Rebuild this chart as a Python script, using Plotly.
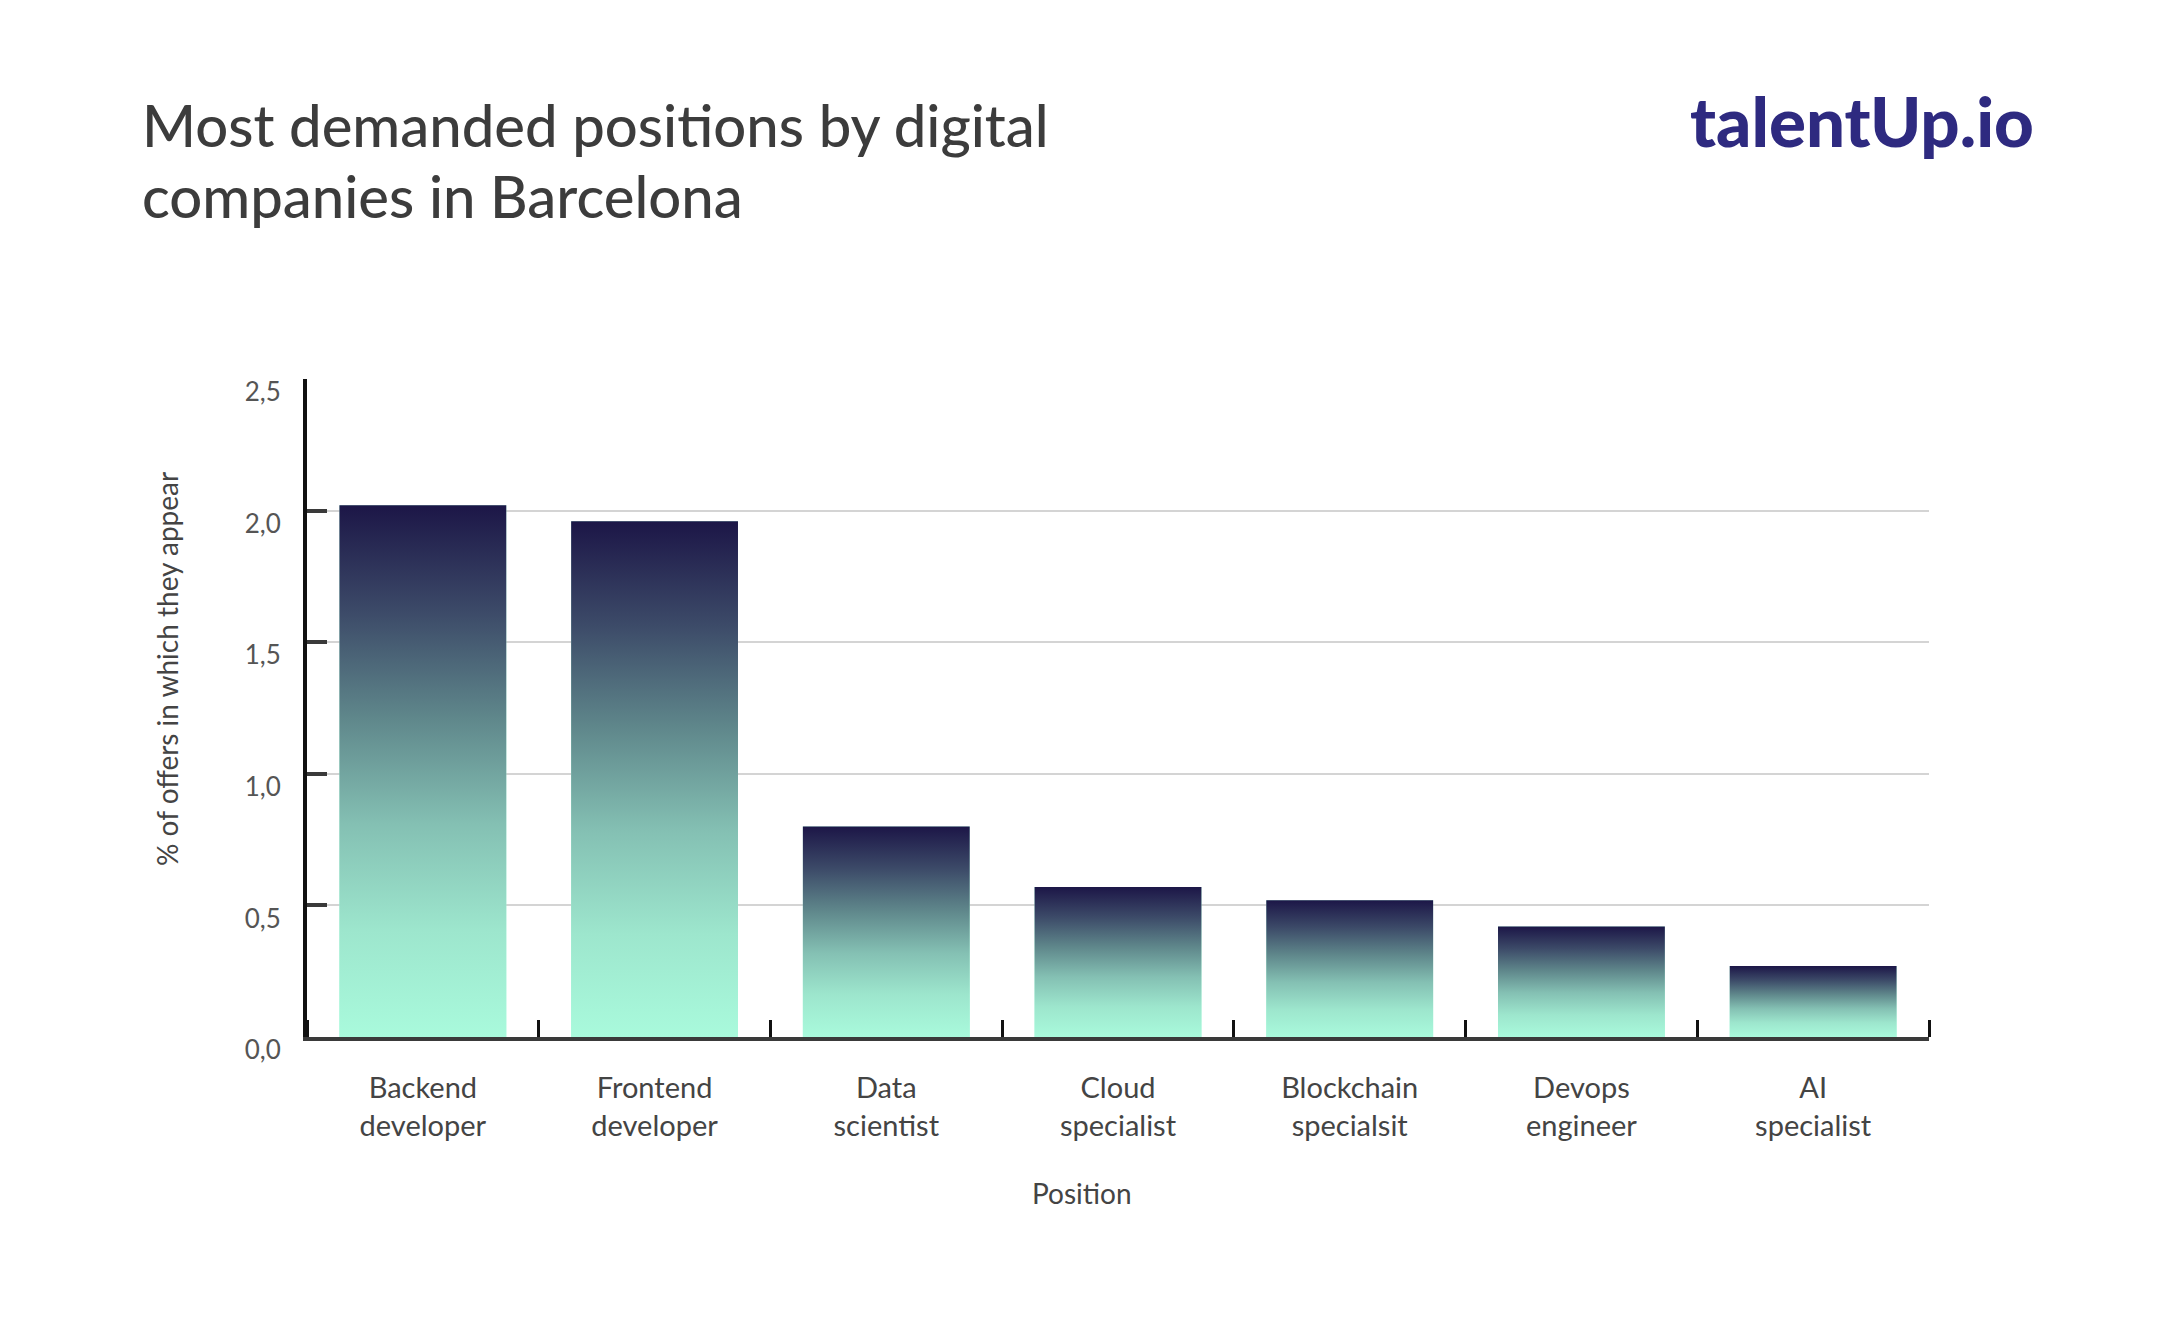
import plotly.graph_objects as go

# ---- data ----
positions = ["Backend<br>developer", "Frontend<br>developer", "Data<br>scientist",
             "Cloud<br>specialist", "Blockchain<br>specialsit", "Devops<br>engineer",
             "AI<br>specialist"]
share = [2.02, 1.96, 0.80, 0.57, 0.52, 0.42, 0.27]
y_ticks = [0.0, 0.5, 1.0, 1.5, 2.0, 2.5]
title_lines = ["Most demanded positions by digital", "companies in Barcelona"]

# ---- layout constants (page pixels) ----
W, H = 2167, 1333
OFF = 8  # default body margin of the html page
L, R, T, B = 307, 1929, 379, 1037
PW, PH = R - L, B - T
BAR_W = 0.72
FONT = "Lato"

GRAD = [[0.0, "#a9fadc"], [0.2, "#9de6cd"], [0.4, "#84c0b3"],
        [0.6, "#5f878b"], [0.8, "#3c4a68"], [1.0, "#1c1647"]]


def px_x(p):
    return (p - L) / PW


def px_y(p):
    return (B - p) / PH


fig = go.Figure()
idx = list(range(len(positions)))

fig.add_trace(go.Bar(x=idx, y=share, width=BAR_W, marker=dict(color="#a9fadc", line=dict(width=0)),
                     hoverinfo="skip", showlegend=False))

for i, v in zip(idx, share):
    fig.add_trace(go.Scatter(
        x=[i - BAR_W / 2, i + BAR_W / 2, i + BAR_W / 2, i - BAR_W / 2, i - BAR_W / 2],
        y=[0, 0, v, v, 0],
        mode="lines", line=dict(width=0), fill="toself",
        fillgradient=dict(type="vertical", colorscale=GRAD, start=0, stop=v),
        hoverinfo="skip", showlegend=False))

annotations = []
for line_text, cy in zip(title_lines, [124, 195]):
    annotations.append(dict(text=line_text, xref="paper", yref="paper",
                            x=px_x(140), y=px_y(cy), xanchor="left", yanchor="middle",
                            showarrow=False,
                            font=dict(family=FONT, size=58, color="#3c3c3c", weight=500)))
annotations += [
    dict(text="<b>talentUp.io</b>",
         xref="paper", yref="paper", x=px_x(2036), y=px_y(120),
         xanchor="right", yanchor="middle", showarrow=False,
         font=dict(family="Lato Black, Lato", size=69, color="#2e2a80", weight=900)),
    dict(text="% of offers in which they appear",
         xref="paper", yref="paper", x=px_x(167), y=px_y(669),
         xanchor="center", yanchor="middle", textangle=-90, showarrow=False,
         font=dict(family=FONT, size=28, color="#444444")),
    dict(text="Position",
         xref="paper", yref="paper", x=px_x(1082), y=px_y(1193),
         xanchor="center", yanchor="middle", showarrow=False,
         font=dict(family=FONT, size=28, color="#444444")),
]

fig.update_layout(
    width=W - 2 * OFF, height=H - 2 * OFF,
    margin=dict(l=L - OFF, r=W - OFF - R, t=T - OFF, b=H - OFF - B, pad=0),
    paper_bgcolor="white", plot_bgcolor="white",
    separators=", ",
    font=dict(family=FONT, color="#444444"),
    showlegend=False,
    xaxis=dict(
        range=[-0.5, len(positions) - 0.5],
        tickmode="array", tickvals=idx, ticktext=positions,
        ticks="", showgrid=False, zeroline=False,
        showline=True, linecolor="#3a3a3a", linewidth=4,
        tickfont=dict(family=FONT, size=29, color="#444444"),
        ticklabelstandoff=22,
        minor=dict(tickmode="linear", tick0=0.5, dtick=1, ticks="inside",
                   ticklen=17, tickwidth=3, tickcolor="#111111", showgrid=False),
        fixedrange=True,
    ),
    yaxis=dict(
        range=[0, 2.5],
        tickmode="array", tickvals=y_ticks, tickformat=".1f",
        ticks="inside", ticklen=20, tickwidth=4, tickcolor="#3a3a3a",
        showgrid=True, gridcolor="#d4d4d4", gridwidth=1.5,
        zeroline=False,
        showline=True, linecolor="#111111", linewidth=4,
        tickfont=dict(family=FONT, size=26, color="#555555"),
        ticklabelstandoff=17, ticklabelshift=13,
        fixedrange=True,
    ),
    annotations=annotations,
)

fig.write_html("out.html")
